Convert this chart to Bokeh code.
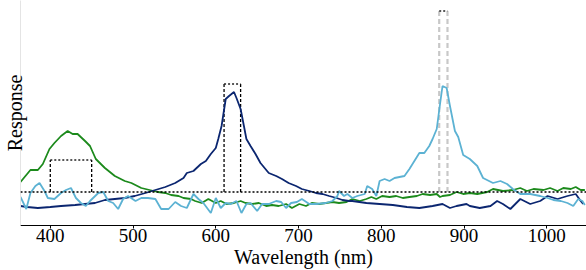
from bokeh.plotting import figure
from bokeh.models import Range1d, FixedTicker, Span
from bokeh.embed import file_html
from bokeh.resources import INLINE

# ---- data (wavelength in nm, response in arbitrary units) ----
green_nm = [364, 370, 376, 385, 391, 399, 405, 413, 421, 427, 433, 442, 448, 455, 466, 478, 490,
            498, 510, 520, 530, 539, 546, 555, 561, 570, 575, 583, 591, 600, 606, 613, 622, 630,
            636, 644, 652, 661, 668, 676, 685, 692, 701, 709, 716, 725, 733, 741, 749, 758, 765,
            774, 782, 788, 794, 801, 810, 818, 826, 834, 843, 850, 859, 867, 871, 874, 883, 891,
            899, 907, 916, 928, 935, 947, 959, 968, 976, 984, 996, 1004, 1013, 1020, 1029, 1035,
            1041, 1046]
green_val = [0.10, 0.16, 0.22, 0.22, 0.28, 0.43, 0.49, 0.56, 0.61, 0.58, 0.58, 0.51, 0.46, 0.33,
             0.24, 0.16, 0.11, 0.09, 0.04, 0.02, 0.00, -0.01, -0.03, -0.04, -0.06, -0.07, -0.09,
             -0.11, -0.07, -0.11, -0.09, -0.12, -0.11, -0.09, -0.11, -0.12, -0.11, -0.14, -0.13,
             -0.14, -0.12, -0.16, -0.12, -0.14, -0.11, -0.12, -0.11, -0.10, -0.11, -0.10, -0.07,
             -0.09, -0.07, -0.05, -0.07, -0.04, -0.05, -0.04, -0.06, -0.05, -0.04, -0.02, -0.03,
             -0.02, -0.05, -0.04, -0.03, 0.00, -0.02, -0.01, -0.02, 0.00, 0.03, 0.01, 0.02, 0.04,
             0.01, 0.03, 0.02, 0.04, 0.01, 0.04, 0.03, 0.05, 0.02, 0.02]

navy_nm = [364, 372, 385, 400, 413, 430, 442, 454, 466, 478, 490, 502, 515, 527, 539, 551, 561,
           565, 573, 582, 588, 594, 600, 603, 607, 612, 616, 622, 625, 630, 634, 637, 642, 648,
           654, 664, 673, 680, 688, 697, 704, 713, 721, 729, 737, 746, 753, 761, 765, 782, 798,
           814, 831, 846, 862, 874, 883, 891, 903, 907, 919, 932, 940, 947, 956, 968, 980, 992,
           1001, 1013, 1025, 1035, 1041, 1044]
navy_val = [-0.14, -0.15, -0.16, -0.15, -0.14, -0.13, -0.12, -0.11, -0.08, -0.07, -0.06, -0.04,
            -0.01, 0.02, 0.05, 0.09, 0.14, 0.19, 0.21, 0.28, 0.31, 0.38, 0.44, 0.53, 0.66, 0.93,
            0.96, 1.00, 0.94, 0.83, 0.66, 0.53, 0.46, 0.38, 0.29, 0.19, 0.16, 0.13, 0.09, 0.06,
            0.03, 0.01, -0.01, -0.02, -0.04, -0.06, -0.08, -0.09, -0.09, -0.11, -0.12, -0.13,
            -0.15, -0.16, -0.14, -0.12, -0.16, -0.14, -0.12, -0.14, -0.16, -0.14, -0.09, -0.12,
            -0.17, -0.07, -0.12, -0.09, -0.04, -0.07, -0.04, -0.02, -0.09, -0.12]

sky_nm = [364, 371, 376, 382, 387, 393, 397, 405, 413, 419, 425, 431, 437, 443, 448, 458, 464,
          470, 476, 482, 488, 494, 503, 510, 518, 527, 534, 543, 551, 558, 565, 573, 579, 585,
          594, 600, 606, 612, 618, 625, 631, 637, 642, 650, 656, 664, 673, 679, 685, 691, 698,
          704, 713, 721, 733, 741, 747, 749, 755, 759, 765, 771, 780, 783, 789, 794, 798, 804,
          810, 816, 822, 828, 834, 840, 846, 852, 858, 862, 867, 871, 874, 879, 883, 889, 893,
          899, 907, 916, 923, 935, 944, 952, 959, 968, 980, 992, 1001, 1008, 1017, 1025, 1032,
          1038, 1043, 1046]
sky_val = [-0.05, -0.17, -0.01, 0.06, 0.09, 0.01, -0.06, -0.07, -0.01, 0.02, 0.04, -0.06, -0.11,
           -0.14, -0.09, -0.01, 0.00, -0.09, -0.11, -0.17, -0.07, -0.04, -0.09, -0.06, -0.06,
           -0.07, -0.17, -0.17, -0.10, -0.14, -0.16, -0.02, -0.07, -0.11, -0.21, -0.06, -0.16,
           -0.11, -0.12, -0.09, -0.21, -0.12, -0.11, -0.19, -0.12, -0.12, -0.09, -0.10, -0.16,
           -0.11, -0.10, -0.07, -0.12, -0.12, -0.11, -0.09, -0.04, 0.01, -0.04, -0.02, -0.06,
           -0.04, -0.02, 0.06, 0.03, -0.04, 0.11, 0.13, 0.11, 0.14, 0.15, 0.16, 0.23, 0.31, 0.39,
           0.39, 0.46, 0.53, 0.63, 0.88, 1.06, 1.04, 0.86, 0.61, 0.55, 0.37, 0.33, 0.26, 0.14,
           0.09, 0.11, 0.08, 0.03, -0.02, -0.02, -0.04, -0.06, -0.08, -0.09, -0.11, -0.14, -0.07,
           -0.09, -0.13]

# target bands (dashed boxes)
band_lo = [400, 610, 870]
band_hi = [450, 630, 880]
band_top = [0.32, 1.08, 1.81]
baseline = 0.0

x_ticks = [400, 500, 600, 700, 800, 900, 1000]
x_title = "Wavelength (nm)"
y_title = "Response"

# ---- styles ----
GREEN = "#1c8a1c"
NAVY = "#0b2670"
SKY = "#5cb2d3"
SIDE_COLORS = ["black", "black", "#c8c8c8"]
SIDE_WIDTHS = [1.3, 1.3, 2.2]
SIDE_DASH = ["3 2", "3 2", "5 3"]
FONT = "Liberation Serif"

p = figure(width=586, height=270, output_backend="svg", toolbar_location=None,
           title=None, x_range=Range1d(364, 1048), y_range=Range1d(-0.335, 1.915))
p.min_border = 0
p.outline_line_color = None
p.grid.visible = False
p.background_fill_color = "white"

p.xaxis.ticker = FixedTicker(ticks=x_ticks)
p.xaxis.axis_line_color = "black"
p.xaxis.axis_line_width = 1.2
p.xaxis.major_tick_out = 3
p.xaxis.major_tick_in = 0
p.xaxis.minor_tick_line_color = None
p.xaxis.major_label_standoff = 0
p.xaxis.major_label_text_font = FONT
p.xaxis.major_label_text_font_size = "19px"
p.xaxis.major_label_text_color = "black"
p.xaxis.axis_label = x_title
p.xaxis.axis_label_standoff = 1
p.xaxis.axis_label_text_font = FONT
p.xaxis.axis_label_text_font_size = "20px"
p.xaxis.axis_label_text_font_style = "normal"
p.xaxis.axis_label_text_color = "black"

p.yaxis.ticker = FixedTicker(ticks=[])
p.yaxis.axis_line_color = "#e4e4e4"
p.yaxis.axis_line_width = 1
p.yaxis.major_tick_out = 0
p.yaxis.major_tick_in = 0
p.yaxis.major_tick_line_color = None
p.yaxis.minor_tick_line_color = None
p.yaxis.major_label_standoff = 0
p.yaxis.axis_label = y_title
p.yaxis.axis_label_standoff = -5
p.yaxis.axis_label_text_font = FONT
p.yaxis.axis_label_text_font_size = "20px"
p.yaxis.axis_label_text_font_style = "normal"
p.yaxis.axis_label_text_color = "black"

p.add_layout(Span(location=baseline, dimension="width", line_color="black",
                  line_dash="2 2", line_width=1.5))

for i in range(len(band_lo)):
    p.segment(x0=[band_lo[i], band_hi[i]], y0=[baseline, baseline],
              x1=[band_lo[i], band_hi[i]], y1=[band_top[i], band_top[i]],
              line_color=SIDE_COLORS[i], line_width=SIDE_WIDTHS[i], line_dash=SIDE_DASH[i])
p.segment(x0=band_lo, y0=band_top, x1=band_hi, y1=band_top,
          line_color="#222222", line_width=1.5, line_dash="2 2")

p.line(green_nm, green_val, line_color=GREEN, line_width=1.8)
p.line(navy_nm, navy_val, line_color=NAVY, line_width=1.8)
p.line(sky_nm, sky_val, line_color=SKY, line_width=1.8)

open("out.html", "w").write(file_html(p, INLINE))
